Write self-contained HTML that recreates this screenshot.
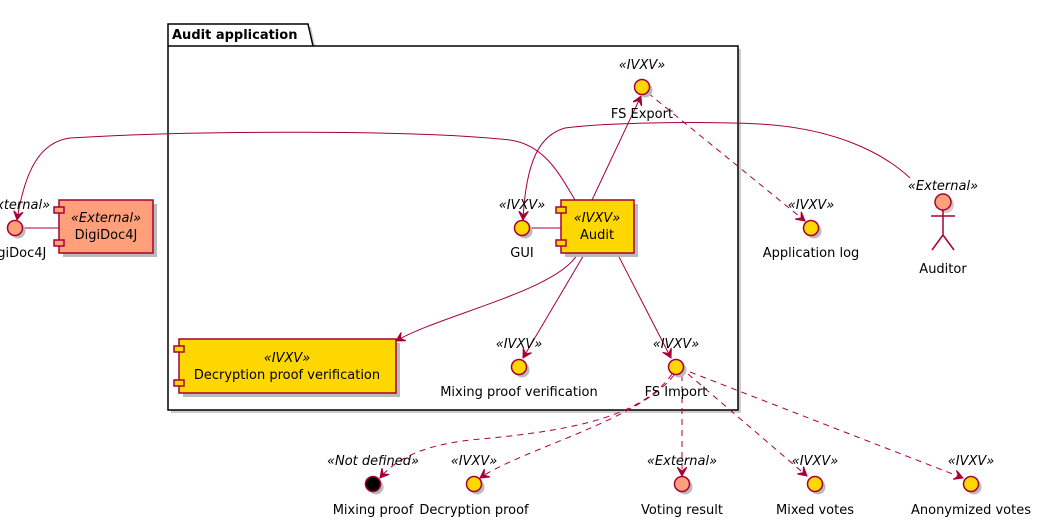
<!DOCTYPE html>
<html><head><meta charset="utf-8"><style>
body{margin:0;background:#fff}
svg{display:block;font-family:"DejaVu Sans","Liberation Sans",sans-serif}
.s{font-style:italic;font-size:13px}
.l{font-size:13px}
</style></head><body>
<svg width="1046" height="526" viewBox="0 0 1046 526" xmlns="http://www.w3.org/2000/svg">
<defs>
<marker id="a" markerWidth="10" markerHeight="10" refX="9" refY="5" orient="auto" markerUnits="userSpaceOnUse">
<path d="M0,0 L9,5 L0,10 L4,5 Z" fill="#A80036" stroke="#A80036"/></marker>
</defs>
<path d="M171,27 H311 L316,49 H741 V413 H171 Z" fill="#ccc"/>
<path d="M168,24 H308 L313,46 H738 V410 H168 Z" fill="#fff" stroke="#000" stroke-width="1.5"/>
<line x1="168" y1="46" x2="313" y2="46" stroke="#000" stroke-width="1.5"/>
<text x="172" y="39" font-size="13" font-weight="bold">Audit application</text>

<g stroke="#A80036" fill="none" stroke-width="1">
<path d="M592,200 L641,96" marker-end="url(#a)"/>
<path d="M648,93 L805,221" stroke-dasharray="6,5" marker-end="url(#a)"/>
<path d="M575,200 C560,175 545,145 510,140 C420,130 200,130 70,138 C40,142 25,170 17,220" marker-end="url(#a)"/>
<path d="M910,178 C880,150 830,128 760,124 C690,121 600,123 565,128 C540,135 526,160 523,220" marker-end="url(#a)"/>
<line x1="530" y1="228" x2="561" y2="228"/>
<line x1="23" y1="228" x2="59" y2="228"/>
<path d="M578,253 C560,290 440,315 396,341" marker-end="url(#a)"/>
<path d="M585,253 L523,358" marker-end="url(#a)"/>
<path d="M617,253 L671,358" marker-end="url(#a)"/>
<g stroke-dasharray="6,5">
<path d="M672,374 C640,420 560,432 470,440 C420,446 395,460 380,478" marker-end="url(#a)"/>
<path d="M674,375 C640,420 520,450 480,478" marker-end="url(#a)"/>
<path d="M682,375 L682,476" marker-end="url(#a)"/>
<path d="M688,374 L807,476" marker-end="url(#a)"/>
<path d="M690,372 L963,478" marker-end="url(#a)"/>
</g>
</g>

<g fill="#bbb">
<circle cx="645" cy="90" r="7.5"/><circle cx="525" cy="231" r="7.5"/><circle cx="814" cy="231" r="7.5"/>
<circle cx="18" cy="231" r="7.5"/><circle cx="522" cy="370" r="7.5"/><circle cx="679" cy="370" r="7.5"/>
<circle cx="376" cy="487" r="7.5"/><circle cx="477" cy="487" r="7.5"/><circle cx="685" cy="487" r="7.5"/>
<circle cx="818" cy="487" r="7.5"/><circle cx="974" cy="487" r="7.5"/>
<rect x="565" y="204" width="73" height="53"/><rect x="63" y="204" width="94" height="53"/><rect x="183" y="343" width="217" height="54"/>
</g>
<g stroke="#A80036" stroke-width="1.5">
<g fill="#FFD700">
<circle cx="642" cy="87" r="7.5"/><circle cx="522" cy="228" r="7.5"/><circle cx="811" cy="228" r="7.5"/>
<circle cx="519" cy="367" r="7.5"/><circle cx="676" cy="367" r="7.5"/>
<circle cx="474" cy="484" r="7.5"/><circle cx="815" cy="484" r="7.5"/><circle cx="971" cy="484" r="7.5"/>
</g>
<g fill="#FFA07A">
<circle cx="15" cy="228" r="7.5"/><circle cx="682" cy="484" r="7.5"/>
</g>
<circle cx="373" cy="484" r="7.5" fill="#000"/>
<rect x="561" y="200" width="73" height="53" fill="#FFD700"/>
<rect x="556" y="207" width="10" height="6" fill="#FFD700"/><rect x="556" y="240" width="10" height="6" fill="#FFD700"/>
<rect x="59" y="200" width="94" height="53" fill="#FFA07A"/>
<rect x="54" y="207" width="10" height="6" fill="#FFA07A"/><rect x="54" y="240" width="10" height="6" fill="#FFA07A"/>
<rect x="179" y="339" width="217" height="54" fill="#FFD700"/>
<rect x="174" y="346" width="10" height="6" fill="#FFD700"/><rect x="174" y="380" width="10" height="6" fill="#FFD700"/>
<circle cx="946" cy="205" r="8" fill="#ccc" stroke="none"/>
<circle cx="943" cy="202" r="8" fill="#FFA07A"/>
<path d="M943,210 V235 M931,216 H955 M943,235 L932,250 M943,235 L954,250" fill="none"/>
</g>

<g text-anchor="middle">
<text class="s" x="642" y="69">«IVXV»</text><text class="l" x="642" y="118">FS Export</text>
<text class="s" x="522" y="209">«IVXV»</text><text class="l" x="522" y="257">GUI</text>
<text class="s" x="811" y="209">«IVXV»</text><text class="l" x="811" y="257">Application log</text>
<text class="s" x="15" y="209">«External»</text><text class="l" x="15" y="257">DigiDoc4J</text>
<text class="s" x="597" y="222">«IVXV»</text><text class="l" x="597" y="239">Audit</text>
<text class="s" x="106" y="222">«External»</text><text class="l" x="106" y="239">DigiDoc4J</text>
<text class="s" x="287" y="362">«IVXV»</text><text class="l" x="287" y="379">Decryption proof verification</text>
<text class="s" x="943" y="190">«External»</text><text class="l" x="943" y="273">Auditor</text>
<text class="s" x="519" y="348">«IVXV»</text><text class="l" x="519" y="396">Mixing proof verification</text>
<text class="s" x="676" y="348">«IVXV»</text><text class="l" x="676" y="396">FS Import</text>
<text class="s" x="373" y="465">«Not defined»</text><text class="l" x="373" y="514">Mixing proof</text>
<text class="s" x="474" y="465">«IVXV»</text><text class="l" x="474" y="514">Decryption proof</text>
<text class="s" x="682" y="465">«External»</text><text class="l" x="682" y="514">Voting result</text>
<text class="s" x="815" y="465">«IVXV»</text><text class="l" x="815" y="514">Mixed votes</text>
<text class="s" x="971" y="465">«IVXV»</text><text class="l" x="971" y="514">Anonymized votes</text>
</g>
</svg>
</body></html>
